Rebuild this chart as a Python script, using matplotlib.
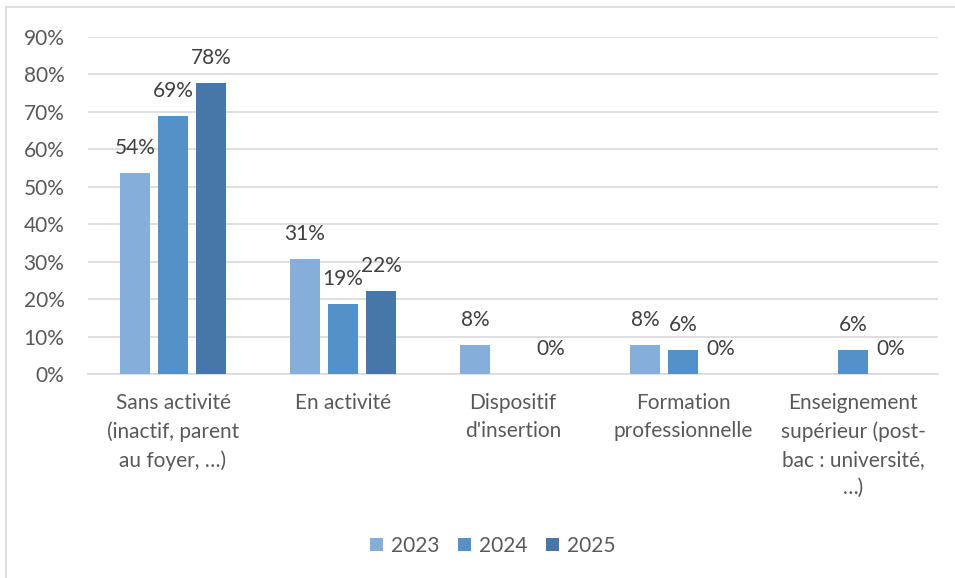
import matplotlib
matplotlib.use("Agg")
import matplotlib.pyplot as plt
from matplotlib.patches import Patch
from matplotlib.lines import Line2D
import numpy as np

categories = ["Sans activité\n(inactif, parent\nau foyer, …)",
              "En activité",
              "Dispositif\nd'insertion",
              "Formation\nprofessionnelle",
              "Enseignement\nsupérieur (post-\nbac : université,\n…)"]
years = ["2023", "2024", "2025"]
v2023 = [53.8, 30.8, 7.7, 7.7, None]
v2024 = [68.8, 18.8, None, 6.3, 6.3]
v2025 = [77.8, 22.2, 0.0, 0.0, 0.0]
series = [v2023, v2024, v2025]
colors = ["#86aedb", "#5591c9", "#4677a8"]

plt.rcParams['font.family'] = ['Lato', 'DejaVu Sans']
FS = 15

fig = plt.figure(figsize=(9.55, 5.78), dpi=100)
ax = fig.add_axes([88/955, 1-374/578, (938-88)/955, (374-37)/578])

x = np.arange(len(categories))
offs = [-0.224, 0.0, 0.224]
bw = 0.178
for vals, off, c, yr in zip(series, offs, colors, years):
    for xi, v in zip(x, vals):
        if v is None:
            continue
        ax.bar(xi + off, v, width=bw, color=c, zorder=3)
        ax.annotate(f"{round(v):.0f}%", (xi + off, v), xytext=(0, 18),
                    textcoords="offset points", ha="center", va="center",
                    fontsize=FS, color="#404040", zorder=4)

ax.set_xlim(-0.5, len(categories) - 0.5)
ax.set_ylim(0, 90)
ax.set_yticks(np.arange(0, 91, 10))
ax.set_yticklabels([f"{t}%" for t in range(0, 91, 10)], fontsize=FS, color="#595959")
ax.set_xticks(x)
ax.set_xticklabels(categories, fontsize=FS, color="#595959", linespacing=1.5, va="top")
ax.tick_params(axis="both", length=0)
ax.tick_params(axis="x", pad=14)
ax.tick_params(axis="y", pad=17)
ax.grid(axis="y", color="#d9d9d9", linewidth=1.2, zorder=0)
for s in ["top", "right", "left"]:
    ax.spines[s].set_visible(False)
ax.spines["bottom"].set_color("#d9d9d9")
ax.spines["bottom"].set_linewidth(1.2)
ax.spines["bottom"].set_zorder(1)

handles = [Patch(facecolor=c, edgecolor="none") for c in colors]
fig.legend(handles, years, loc="center", bbox_to_anchor=(493/955, 1-546/578),
           ncol=3, frameon=False, fontsize=FS, handlelength=0.6, handleheight=0.6,
           handletextpad=0.4, columnspacing=0.9, labelcolor="#595959")

# chart area border (left and top visible)
fig.add_artist(Line2D([6/955, 6/955], [0, 1-7/578], transform=fig.transFigure,
                      color="#d9d9d9", linewidth=1.2))
fig.add_artist(Line2D([6/955, 1], [1-7/578, 1-7/578], transform=fig.transFigure,
                      color="#d9d9d9", linewidth=1.2))

fig.savefig("out.png", dpi=100, facecolor="white")
